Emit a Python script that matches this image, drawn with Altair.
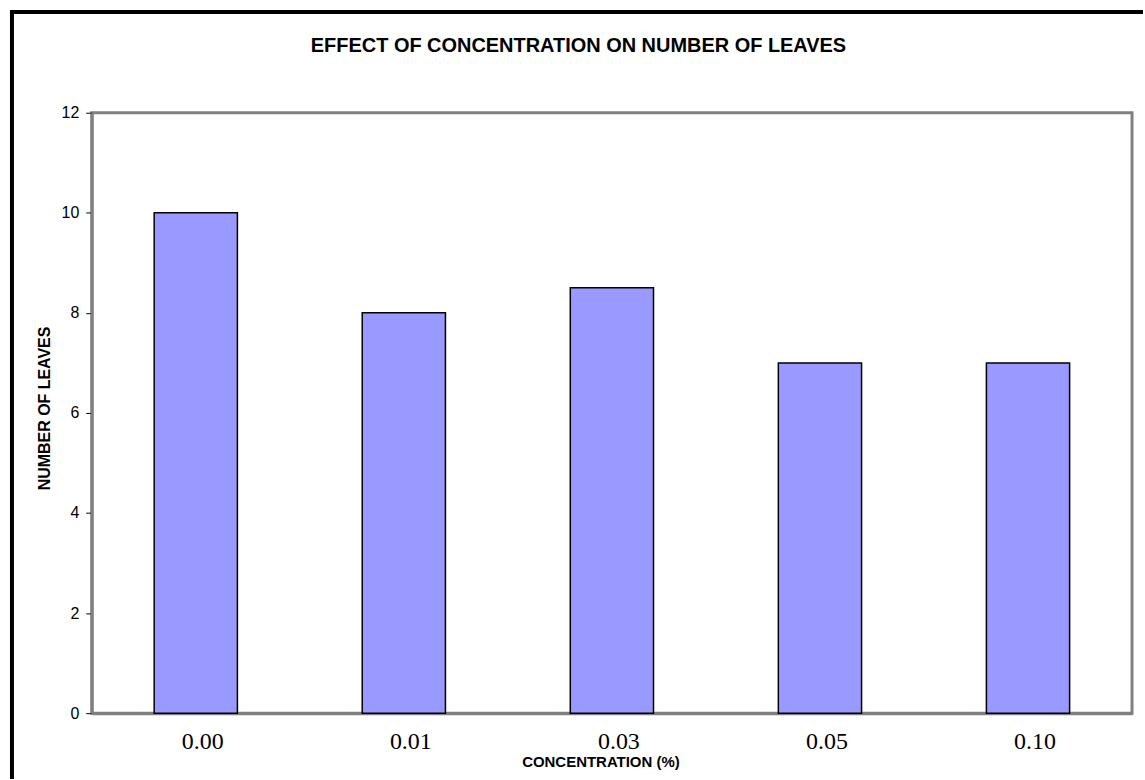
import altair as alt
import pandas as pd

concentrations = ["0.00", "0.01", "0.03", "0.05", "0.10"]
leaves = [10, 8, 8.5, 7, 7]
chart_title = "EFFECT OF CONCENTRATION ON NUMBER OF LEAVES"

df = pd.DataFrame({"conc": concentrations, "leaves": leaves})

W, H = 1043, 602

bars = alt.Chart(df).mark_bar(color="#9999FF", stroke="#000000", strokeWidth=1.5).encode(
    x=alt.X(
        "conc:N",
        sort=concentrations,
        scale=alt.Scale(paddingInner=0.6, paddingOuter=0.3),
        axis=alt.Axis(
            title="CONCENTRATION (%)",
            labelAngle=0,
            labelFont="Liberation Serif",
            labelFontSize=24,
            labelColor="#000000",
            labelOffset=7,
            labelPadding=16,
            ticks=False,
            domainColor="#808080",
            domainWidth=3,
            titleFont="Liberation Sans",
            titleFontSize=15,
            titleFontWeight="bold",
            titleColor="#000000",
            titlePadding=1,
            titleX=510,
        ),
    ),
    y=alt.Y(
        "leaves:Q",
        scale=alt.Scale(domain=[0, 12], nice=False),
        axis=alt.Axis(
            title="NUMBER OF LEAVES",
            values=[0, 2, 4, 6, 8, 10, 12],
            grid=False,
            labelFont="Liberation Sans",
            labelFontSize=16,
            labelColor="#000000",
            labelPadding=7,
            tickColor="#000000",
            tickSize=6,
            tickWidth=1,
            domainColor="#808080",
            domainWidth=3,
            titleFont="Liberation Sans",
            titleFontSize=16,
            titleFontWeight="bold",
            titleColor="#000000",
            titlePadding=9,
            titleY=296,
        ),
    ),
)

one = alt.Data(values=[{"t": chart_title}])

left_border = alt.Chart(one).mark_rule(color="#000000", strokeWidth=4).encode(
    x=alt.value(-80), y=alt.value(-103), y2=alt.value(668)
)
top_border = alt.Chart(one).mark_rule(color="#000000", strokeWidth=4).encode(
    x=alt.value(-82), x2=alt.value(1054), y=alt.value(-101)
)
title_text = alt.Chart(one).mark_text(
    font="Liberation Sans",
    fontSize=20,
    fontWeight="bold",
    color="#000000",
    align="center",
    baseline="alphabetic",
).encode(x=alt.value(488), y=alt.value(-61), text="t:N")

chart = (
    alt.layer(bars, left_border, top_border, title_text)
    .properties(
        width=W,
        height=H,
        padding={"left": 8, "top": 7, "right": 0, "bottom": 0},
        background="white",
    )
    .configure_view(stroke="#808080", strokeWidth=3)
)

chart.save("out.html", embed_options={"renderer": "svg", "actions": False})
